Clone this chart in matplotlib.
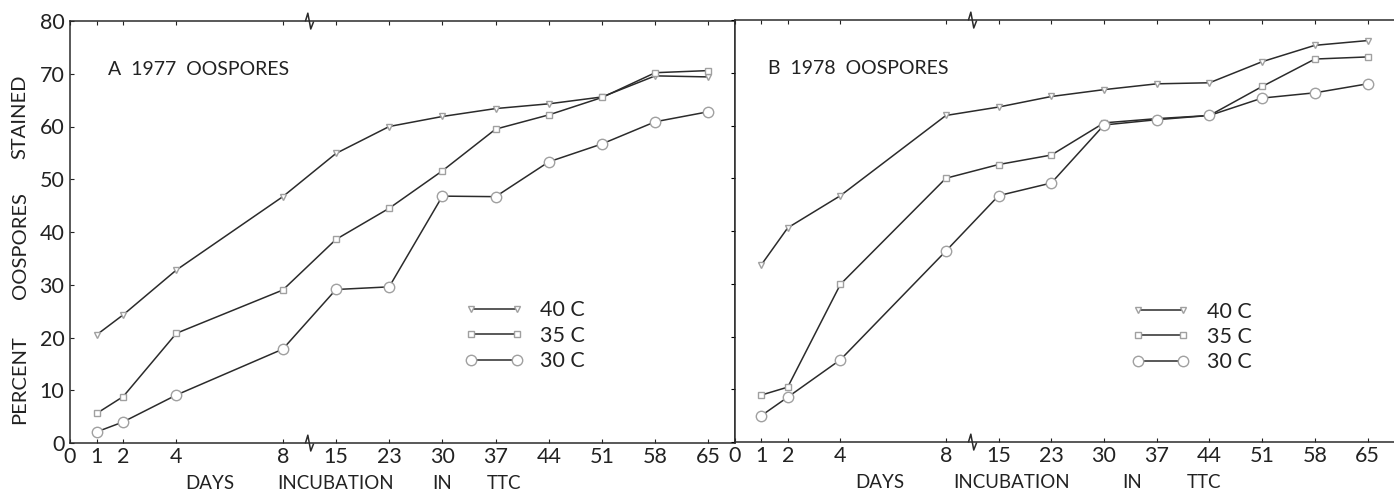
import numpy as np
import matplotlib.pyplot as plt
from matplotlib.path import Path
from matplotlib.lines import Line2D
from matplotlib.transforms import blended_transform_factory

plt.rcParams["font.family"] = ["Lato", "DejaVu Sans"]

# incubation days and percent stained oospores
days = [1, 2, 4, 8, 15, 23, 30, 37, 44, 51, 58, 65]

a_40 = [20.5, 24.3, 32.8, 46.7, 54.9, 60.0, 61.9, 63.4, 64.3, 65.6, 69.6, 69.4]
a_35 = [5.6, 8.8, 20.8, 29.0, 38.6, 44.5, 51.6, 59.5, 62.2, 65.5, 70.2, 70.6]
a_30 = [2.1, 4.0, 9.1, 17.8, 29.1, 29.6, 46.8, 46.7, 53.3, 56.7, 60.9, 62.8]

b_40 = [33.6, 40.6, 46.7, 61.9, 63.5, 65.5, 66.8, 67.9, 68.1, 72.1, 75.2, 76.1]
b_35 = [8.9, 10.4, 29.9, 50.0, 52.6, 54.4, 60.5, 61.3, 61.9, 67.4, 72.6, 73.0]
b_30 = [5.0, 8.5, 15.6, 36.2, 46.7, 49.1, 60.1, 61.1, 61.9, 65.2, 66.2, 67.9]

labels = ["40 C", "35 C", "30 C"]
tick_days = [0, 1, 2, 4, 8, 15, 23, 30, 37, 44, 51, 58, 65]
y_ticks = [0, 10, 20, 30, 40, 50, 60, 70, 80]

# broken day axis: linear up to 8, then equal steps per sampling date
map_days = [0, 1, 2, 4, 8, 15, 23, 30, 37, 44, 51, 58, 65, 72]
map_pos = [0, 1, 2, 4, 8, 10, 12, 14, 16, 18, 20, 22, 24, 26]


def forward(x):
    return np.interp(x, map_days, map_pos)


def inverse(p):
    return np.interp(p, map_pos, map_days)


line_color = "#2b2b2b"
edge_color = "#a0a0a0"
text_color = "#222222"
styles = [
    dict(marker="v", markersize=5),
    dict(marker="s", markersize=5),
    dict(marker="o", markersize=7.5),
]

break_marker = Path([(-0.5, 0), (-0.2, 1.0), (0.15, -0.9), (0.5, 0)])


def draw_panel(ax, series, title, word_pos, legend_anchor, show_ylabels):
    ax.set_xscale("function", functions=(forward, inverse))
    for values, style in zip(series, styles):
        ax.plot(days, values, color=line_color, linewidth=1.1,
                markerfacecolor="white", markeredgecolor=edge_color,
                markeredgewidth=1.0, **style)
    ax.set_xlim(0, 68.5)
    ax.set_ylim(0, 80)
    ax.set_xticks(tick_days)
    ax.set_xticklabels([str(d) for d in tick_days])
    ax.set_yticks(y_ticks)
    ax.minorticks_off()
    ax.tick_params(axis="x", direction="in", length=3, top=True,
                   labelsize=15.5, pad=3, colors=text_color)
    if show_ylabels:
        ax.tick_params(axis="y", direction="in", length=3, labelsize=15.5,
                       pad=4, colors=text_color)
    else:
        ax.tick_params(axis="y", direction="out", length=3, labelleft=False)
        ax.spines["right"].set_visible(False)
    for side in ["left", "right", "top", "bottom"]:
        ax.spines[side].set_color(line_color)
        ax.spines[side].set_linewidth(1.1)

    # axis break marks
    trans = blended_transform_factory(ax.transData, ax.transAxes)
    ax.plot([11.5, 11.5], [0, 1], transform=trans, linestyle="none",
            marker=break_marker, markersize=12, markerfacecolor="none",
            markeredgecolor=line_color, markeredgewidth=1.1, clip_on=False)

    ax.text(word_pos[0], 0.885, title, transform=ax.transAxes, fontsize=14,
            va="center", ha="left", color=text_color)
    for word, xpos in zip(["DAYS", "INCUBATION", "IN", "TTC"], word_pos[1:]):
        ax.text(xpos, -0.095, word, transform=ax.transAxes, fontsize=13.5,
                ha="center", va="center", color=text_color)

    handles = [Line2D([], [], color=line_color, linewidth=1.1,
                      markerfacecolor="white", markeredgecolor=edge_color,
                      markeredgewidth=1.0, **style) for style in styles]
    ax.legend(handles, labels, loc="center left", bbox_to_anchor=legend_anchor,
              frameon=False, numpoints=2, handlelength=2.7, handletextpad=0.8,
              labelspacing=0.25, fontsize=15.5, borderpad=0, borderaxespad=0,
              labelcolor=text_color)


fig = plt.figure(figsize=(13.94, 4.93), dpi=100)
ax_a = fig.add_axes([70 / 1394, 50 / 493, 665 / 1394, 422 / 493])
ax_b = fig.add_axes([735 / 1394, 51 / 493, 659 / 1394, 422 / 493])

draw_panel(ax_a, [a_40, a_35, a_30], "A  1977  OOSPORES",
           [0.057, 0.21, 0.40, 0.559, 0.652], (0.594, 0.254), True)
draw_panel(ax_b, [b_40, b_35, b_30], "B  1978  OOSPORES",
           [0.05, 0.22, 0.42, 0.603, 0.712], (0.602, 0.249), False)

for word, ypos in zip(["PERCENT", "OOSPORES", "STAINED"], [0.149, 0.469, 0.773]):
    ax_a.text(-0.075, ypos, word, transform=ax_a.transAxes, rotation=90,
              fontsize=14.5, ha="center", va="center", color=text_color)

fig.savefig("out.png", dpi=100)
plt.close()
